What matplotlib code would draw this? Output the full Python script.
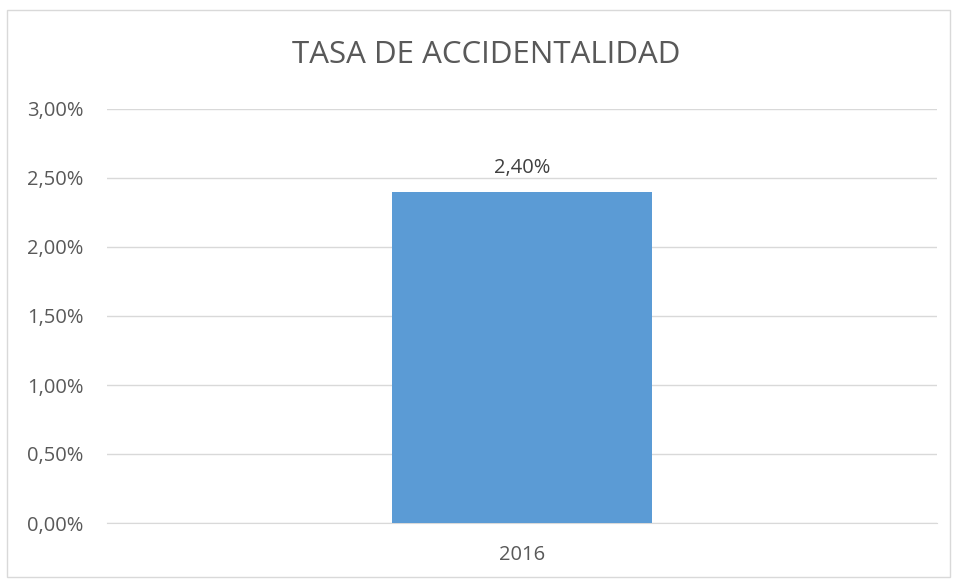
import matplotlib
matplotlib.use("Agg")
import matplotlib.pyplot as plt
from matplotlib.ticker import FuncFormatter
from matplotlib.patches import Rectangle

categories = ["2016"]
values = [0.024]
yticks = [0.0, 0.005, 0.01, 0.015, 0.02, 0.025, 0.03]
title = "TASA DE ACCIDENTALIDAD"

plt.rcParams['font.family'] = ['Open Sans', 'DejaVu Sans']
fig = plt.figure(figsize=(9.55, 5.83), dpi=100)
fig.patches.append(Rectangle((7/955, 6/583), 943/955, 567/583, transform=fig.transFigure,
                             fill=False, edgecolor='#D9D9D9', linewidth=1))
ax = fig.add_axes([107/955, 1-523/583, 830/955, 414/583])

x = list(range(len(categories)))
ax.bar(x, values, width=0.314, color='#5B9BD5', zorder=3)
ax.set_xlim(-0.5, 0.5)
ax.set_ylim(0, 0.03)
ax.set_yticks(yticks)
fmt = lambda v: f"{v*100:.2f}%".replace('.', ',')
ax.yaxis.set_major_formatter(FuncFormatter(lambda v, p: fmt(v)))
ax.set_xticks(x)
ax.set_xticklabels(categories)
ax.grid(axis='y', color='#D9D9D9', linewidth=1, zorder=0)
for s in ['top', 'right', 'left']:
    ax.spines[s].set_visible(False)
ax.spines['bottom'].set_color('#D9D9D9')
ax.tick_params(axis='both', length=0, colors='#595959', labelsize=14.5)
ax.tick_params(axis='y', pad=17)
ax.tick_params(axis='x', pad=16)
for xi, v in zip(x, values):
    ax.annotate(fmt(v), (xi, v), xytext=(0, 10), textcoords='offset points',
                ha='center', va='bottom', fontsize=14.5, color='#404040')
fig.text(486/955, 1-55/583, title, ha='center', va='center', fontsize=22.5, color='#595959')
fig.savefig("out.png", dpi=100)
